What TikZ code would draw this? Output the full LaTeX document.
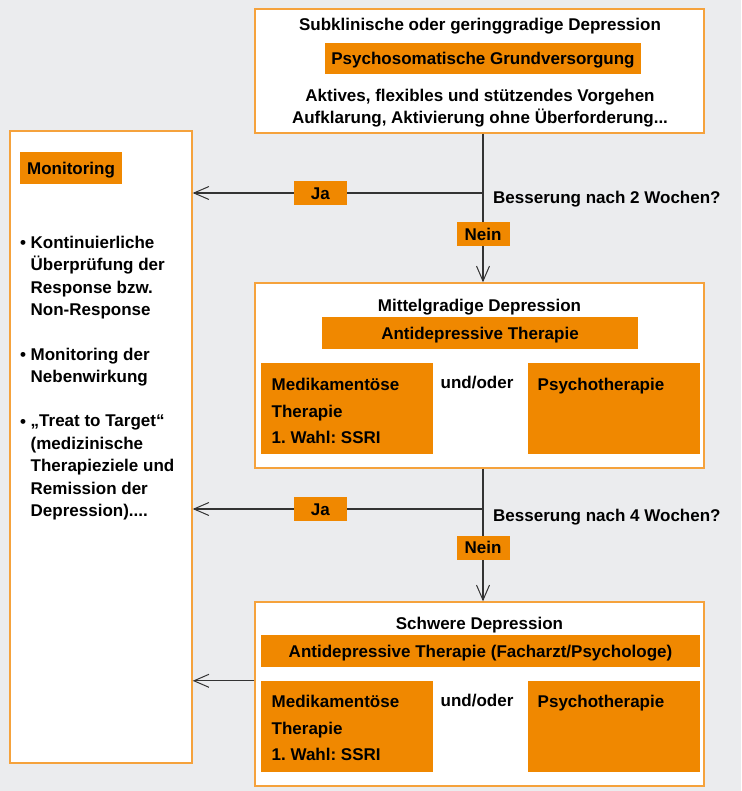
\documentclass[tikz,border=0pt]{standalone}
\usepackage{fontspec}
\setmainfont{Liberation Sans}
\usetikzlibrary{positioning,arrows.meta}

\definecolor{tagorange}{HTML}{F08800}
\definecolor{frameorange}{HTML}{F5A23C}
\definecolor{canvas}{HTML}{EBECEE}
\definecolor{flowgray}{HTML}{333333}

\frenchspacing
\newcommand{\chartfont}{\bfseries\fontsize{17}{22.4}\selectfont}
\newcommand{\medfont}{\bfseries\fontsize{17}{26.7}\selectfont}

\tikzset{
  stage/.style={draw=frameorange, fill=white, line width=1.4pt, inner sep=0pt},
  txt/.style={inner sep=0pt, text height=12.2pt, text depth=0pt, font=\chartfont},
  tag/.style={txt, fill=tagorange},
  medbox/.style={fill=tagorange, inner sep=0pt, minimum width=172pt, minimum height=91pt},
  lines/.style={inner sep=0pt, align=left, font=\chartfont},
  dot/.style={inner sep=0pt, font=\chartfont, anchor=base},
  link/.style={draw=flowgray, line width=1.1pt},
  flow/.style={link, -{Straight Barb[length=15pt,width=13pt,line width=1pt]}}
}

\begin{document}
\begin{tikzpicture}[x=1pt,y=-1pt]
\fill[canvas] (0,0) rectangle (741,791);
\useasboundingbox (0,0) rectangle (741,791);

% subklinisch
\node[stage, minimum width=449pt, minimum height=124pt] (mild) at (479.5,71) {};
\node[txt] (mildtitle) at (480,24.5) {Subklinische oder geringgradige Depression};
\node[tag, minimum width=316pt, minimum height=31pt] (basic) at (483,58.5) {Psychosomatische Grundversorgung};
\node[lines, align=center, anchor=north] (mildtext) at (480,89) {Aktives, flexibles und stützendes Vorgehen\\Aufklarung, Aktivierung ohne Überforderung...};

% monitoring
\node[stage, minimum width=182pt, minimum height=632pt] (monitor) at (101,447) {};
\node[tag, minimum width=102pt, minimum height=32pt] (monhead) at (71,168) {Monitoring};
\node[dot] (dot1) at (23,248) {•};
\node[lines, anchor=north west] (item1) at (30.5,236) {Kontinuierliche\\Überprüfung der\\Response bzw.\\Non-Response};
\node[dot] (dot2) at (23,360) {•};
\node[lines, anchor=north west] (item2) at (30.5,348) {Monitoring der\\Nebenwirkung};
\node[dot] (dot3) at (23,427) {•};
\node[lines, anchor=north west] (item3) at (30.5,415) {„Treat to Target“\\(medizinische\\Therapieziele und\\Remission der\\Depression)....};

% mittelgradig
\node[stage, minimum width=449pt, minimum height=185pt] (moderate) at (479.5,375.5) {};
\node[txt] (modtitle) at (479.5,305) {Mittelgradige Depression};
\node[tag, minimum width=316pt, minimum height=32pt] (modtherapy) at (480,333) {Antidepressive Therapie};
\node[medbox] (modmed) at (347,408.5) {};
\node[lines, font=\medfont, anchor=north west] (modmedtext) at (271.5,378) {Medikamentöse\\Therapie\\1. Wahl: SSRI};
\node[txt, anchor=base] (modor) at (477,388.5) {und/oder};
\node[medbox] (modpsy) at (614,408.5) {};
\node[txt, anchor=base west] (modpsytext) at (537.5,390) {Psychotherapie};

% schwer
\node[stage, minimum width=449pt, minimum height=184pt] (severe) at (479.5,694) {};
\node[txt, anchor=base] (sevtitle) at (479.5,629) {Schwere Depression};
\node[tag, minimum width=439pt, minimum height=32pt] (sevtherapy) at (480.5,651) {Antidepressive Therapie (Facharzt/Psychologe)};
\node[medbox] (sevmed) at (347,726.5) {};
\node[lines, font=\medfont, anchor=north west] (sevmedtext) at (271.5,695) {Medikamentöse\\Therapie\\1. Wahl: SSRI};
\node[txt, anchor=base] (sevor) at (477,706) {und/oder};
\node[medbox] (sevpsy) at (614,726.5) {};
\node[txt, anchor=base west] (sevpsytext) at (537.5,707) {Psychotherapie};

% entscheidungen
\coordinate (fork1) at (483,193);
\coordinate (fork2) at (483,509);
\node[txt, anchor=base west] (ask1) at (493,204) {Besserung nach 2 Wochen?};
\node[txt, anchor=base west] (ask2) at (493,521) {Besserung nach 4 Wochen?};

\draw[link] (mild.south -| fork1) -- (fork1);
\draw[flow] (fork1) -- node[tag, minimum width=53pt, minimum height=24pt, pos=0.56] (yes1) {Ja} (monitor.east |- fork1);
\draw[flow] (fork1) -- node[tag, minimum width=53pt, minimum height=24pt, pos=0.46] (no1) {Nein} (moderate.north -| fork1);

\draw[link] (moderate.south -| fork2) -- (fork2);
\draw[flow] (fork2) -- node[tag, minimum width=53pt, minimum height=24pt, pos=0.56] (yes2) {Ja} (monitor.east |- fork2);
\draw[flow] (fork2) -- node[tag, minimum width=53pt, minimum height=24pt, pos=0.42] (no2) {Nein} (severe.north -| fork2);

\draw[flow] (sevmed.north -| severe.west) -- (monitor.east |- sevmed.north);
\end{tikzpicture}
\end{document}
